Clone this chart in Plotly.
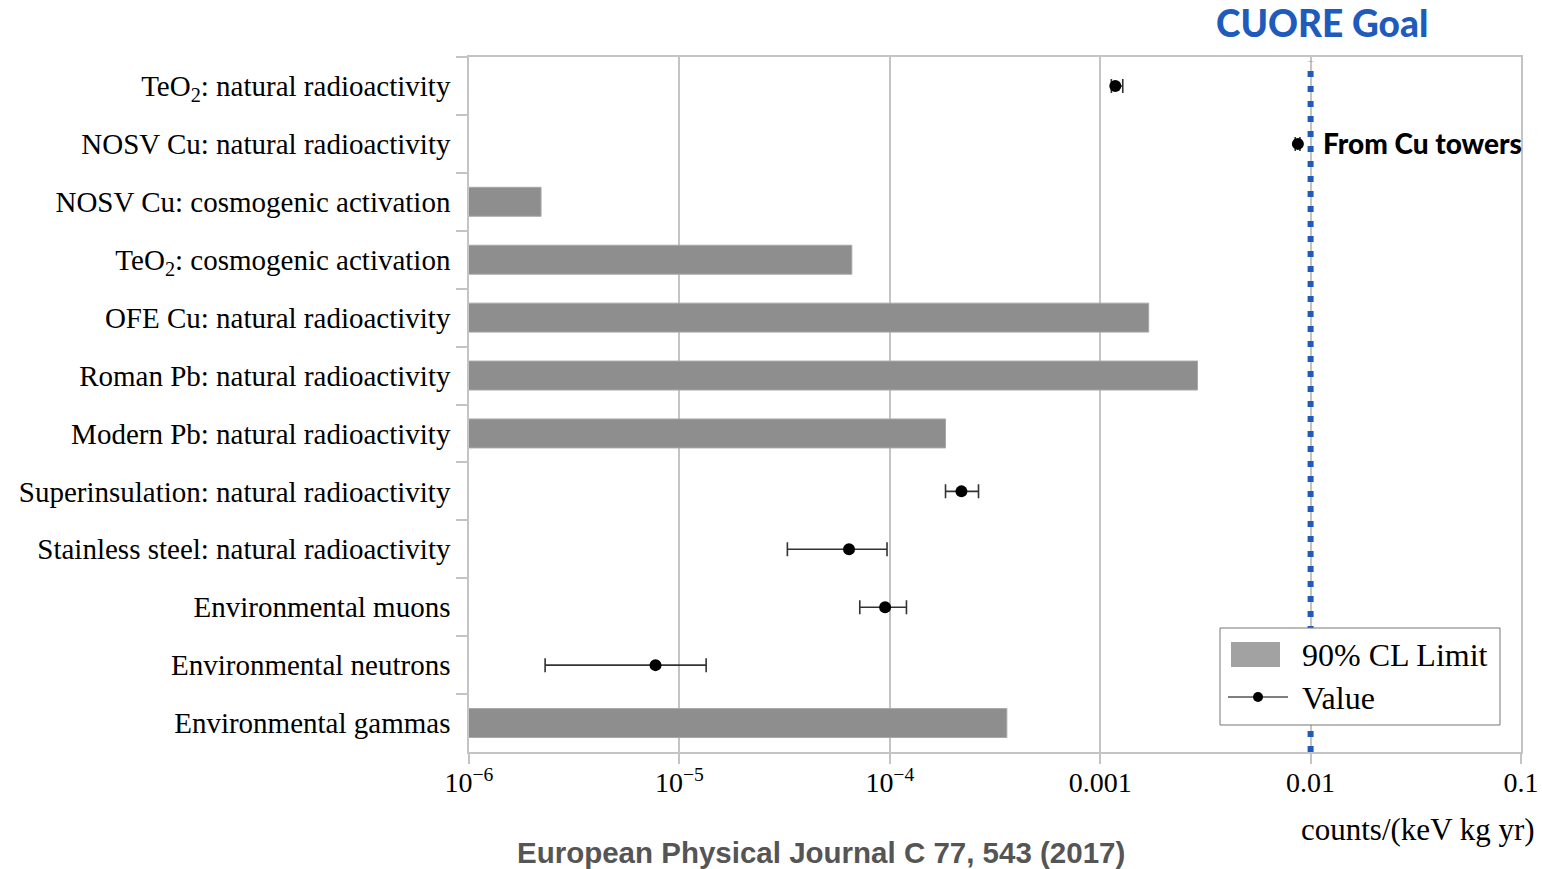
import plotly.graph_objects as go

categories = [
    "TeO<sub>2</sub>: natural radioactivity",
    "NOSV Cu: natural radioactivity",
    "NOSV Cu: cosmogenic activation",
    "TeO<sub>2</sub>: cosmogenic activation",
    "OFE Cu: natural radioactivity",
    "Roman Pb: natural radioactivity",
    "Modern Pb: natural radioactivity",
    "Superinsulation: natural radioactivity",
    "Stainless steel: natural radioactivity",
    "Environmental muons",
    "Environmental neutrons",
    "Environmental gammas",
]

# 90% CL limits (bars)
limit_cats = [
    "NOSV Cu: cosmogenic activation",
    "TeO<sub>2</sub>: cosmogenic activation",
    "OFE Cu: natural radioactivity",
    "Roman Pb: natural radioactivity",
    "Modern Pb: natural radioactivity",
    "Environmental gammas",
]
limit_vals = [2.2e-6, 6.6e-5, 1.70e-3, 2.90e-3, 1.84e-4, 3.6e-4]

# measured values with error bars
value_cats = [
    "TeO<sub>2</sub>: natural radioactivity",
    "NOSV Cu: natural radioactivity",
    "Superinsulation: natural radioactivity",
    "Stainless steel: natural radioactivity",
    "Environmental muons",
    "Environmental neutrons",
]
value_vals = [1.18e-3, 8.7e-3, 2.19e-4, 6.4e-5, 9.5e-5, 7.7e-6]
value_lo = [1.13e-3, 8.45e-3, 1.84e-4, 3.26e-5, 7.2e-5, 2.30e-6]
value_hi = [1.28e-3, 8.9e-3, 2.64e-4, 9.7e-5, 1.2e-4, 1.34e-5]

x_tickvals = [1e-6, 1e-5, 1e-4, 1e-3, 1e-2, 1e-1]
x_ticktext = ["10<sup>−6</sup>", "10<sup>−5</sup>", "10<sup>−4</sup>", "0.001", "0.01", "0.1"]

goal_value = 0.01

W, H = 1542, 869
L, R, T, B = 469, 21, 57, 117
PW, PH = W - L - R, H - T - B


def px(xp):
    return (xp - L) / PW


def py(yp):
    return (H - B - yp) / PH


serif = "Liberation Serif"
grid_c = "#c4c4c4"

fig = go.Figure()

fig.add_trace(go.Bar(
    y=limit_cats, x=limit_vals, orientation="h",
    marker=dict(color="#8e8e8e", line=dict(color="#a8a8a8", width=1)),
    width=0.5, name="90% CL Limit", showlegend=False,
))

fig.add_trace(go.Scatter(
    y=value_cats, x=value_vals, mode="markers",
    marker=dict(color="black", size=12),
    error_x=dict(
        type="data", symmetric=False,
        array=[h - v for h, v in zip(value_hi, value_vals)],
        arrayminus=[v - l for l, v in zip(value_lo, value_vals)],
        color="#333333", thickness=1.6, width=7,
    ),
    name="Value", showlegend=False,
))

shapes = [
    dict(type="line", xref="x", yref="paper", x0=goal_value, x1=goal_value,
         y0=0, y1=0.993, line=dict(color="#1f5bbd", width=6, dash="6px,9px")),
    # legend box
    dict(type="rect", xref="paper", yref="paper",
         x0=px(1220), x1=px(1500), y0=py(725), y1=py(628),
         line=dict(color="#777777", width=1), fillcolor="white"),
    dict(type="rect", xref="paper", yref="paper",
         x0=px(1231), x1=px(1280), y0=py(667), y1=py(642),
         line=dict(width=0), fillcolor="#a2a2a2"),
    dict(type="line", xref="paper", yref="paper",
         x0=px(1228), x1=px(1288), y0=py(697), y1=py(697),
         line=dict(color="black", width=1)),
    dict(type="circle", xref="paper", yref="paper",
         x0=px(1253), x1=px(1263), y0=py(702), y1=py(692),
         line=dict(width=0), fillcolor="black"),
]

annotations = [
    dict(text="CUORE Goal", xref="paper", yref="paper", x=px(1322), y=py(22),
         showarrow=False, xanchor="center", yanchor="middle",
         font=dict(family="Lato", size=37, color="#1f5bbd", weight=900)),
    dict(text="From Cu towers", xref="paper", yref="paper", x=px(1321), y=py(143),
         showarrow=False, xanchor="left", yanchor="middle",
         font=dict(family="Lato", size=28, color="black", weight=900)),
    dict(text="counts/(keV kg yr)", xref="paper", yref="paper", x=px(1537), y=py(829),
         showarrow=False, xanchor="right", yanchor="middle",
         font=dict(family=serif, size=31, color="black")),
    dict(text="<b>European Physical Journal C 77, 543 (2017)</b>", xref="paper", yref="paper",
         x=px(821), y=py(852), showarrow=False, xanchor="center", yanchor="middle",
         font=dict(family="Liberation Sans", size=29.5, color="#555555")),
    dict(text="90% CL Limit", xref="paper", yref="paper", x=px(1300), y=py(655),
         showarrow=False, xanchor="left", yanchor="middle",
         font=dict(family=serif, size=32, color="black")),
    dict(text="Value", xref="paper", yref="paper", x=px(1300), y=py(698),
         showarrow=False, xanchor="left", yanchor="middle",
         font=dict(family=serif, size=32, color="black")),
]

fig.update_layout(
    width=W, height=H,
    margin=dict(l=L, r=R, t=T, b=B, pad=0, autoexpand=False),
    paper_bgcolor="white", plot_bgcolor="white",
    showlegend=False,
    shapes=shapes, annotations=annotations,
    font=dict(family=serif, size=28, color="black"),
)

fig.update_xaxes(
    type="log", range=[-6, -1], automargin=False,
    tickvals=x_tickvals, ticktext=x_ticktext,
    showgrid=True, gridcolor=grid_c, gridwidth=1.5,
    showline=True, linecolor=grid_c, linewidth=1.5, mirror=True,
    ticks="outside", ticklen=10, tickcolor=grid_c, tickwidth=1.5,
    tickfont=dict(family=serif, size=28, color="black"),
    ticklabelstandoff=-5,
    zeroline=False,
)

fig.update_yaxes(
    type="category", categoryorder="array", categoryarray=categories,
    range=[11.5, -0.5], automargin=False,
    showgrid=False,
    showline=True, linecolor=grid_c, linewidth=1.5, mirror=True,
    ticks="outside", tickson="boundaries", ticklen=11, tickcolor=grid_c, tickwidth=1.5,
    tickfont=dict(family=serif, size=29, color="black"),
    ticklabelstandoff=11,
)

fig.write_html("out.html")
